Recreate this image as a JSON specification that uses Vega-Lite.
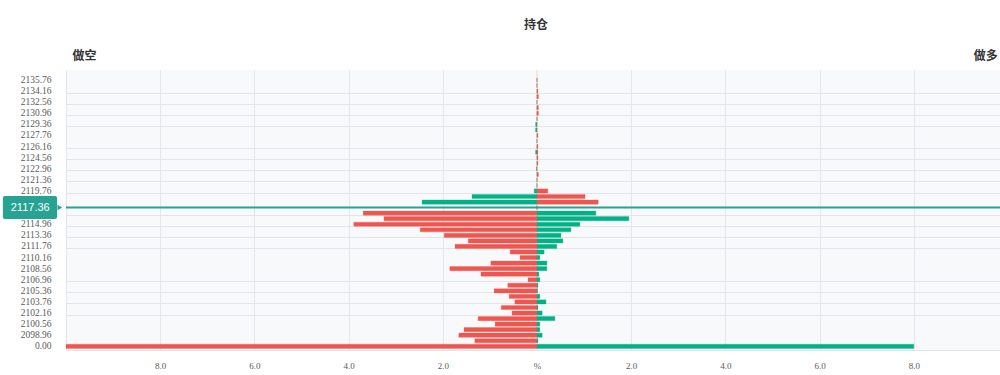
{
  "$schema": "https://vega.github.io/schema/vega-lite/v6.json",
  "width": 934,
  "height": 280,
  "autosize": "none",
  "padding": {"left": 66, "top": 70, "right": 0, "bottom": 25},
  "background": "#ffffff",
  "title": {"text": "持仓", "font": "Noto Sans CJK SC", "fontSize": 12, "fontWeight": "bold", "color": "#333333", "anchor": "middle", "frame": "group", "offset": 17, "dx": 3},
  "config": {"view": {"fill": "#f8f9fb", "stroke": null}, "font": "Liberation Sans"},
  "data": {"values": [
    {"price": "2135.76", "short": 0, "long": 0},
    {"price": "2134.96", "short": 0, "long": 0},
    {"price": "2134.16", "short": 0, "long": 0.02},
    {"price": "2133.36", "short": 0, "long": 0.03},
    {"price": "2132.56", "short": 0, "long": 0},
    {"price": "2131.76", "short": 0, "long": 0.03},
    {"price": "2130.96", "short": 0, "long": 0.03},
    {"price": "2130.16", "short": 0, "long": 0},
    {"price": "2129.36", "short": -0.03, "long": 0},
    {"price": "2128.56", "short": -0.03, "long": 0},
    {"price": "2127.76", "short": 0, "long": 0.02},
    {"price": "2126.96", "short": 0, "long": 0},
    {"price": "2126.16", "short": 0, "long": 0.02},
    {"price": "2125.36", "short": -0.03, "long": 0.02},
    {"price": "2124.56", "short": 0, "long": 0.02},
    {"price": "2123.76", "short": 0, "long": 0.02},
    {"price": "2122.96", "short": -0.01, "long": 0},
    {"price": "2122.16", "short": 0, "long": 0.03},
    {"price": "2121.36", "short": 0, "long": 0},
    {"price": "2120.56", "short": 0, "long": 0},
    {"price": "2119.76", "short": -0.06, "long": 0.23},
    {"price": "2118.96", "short": -1.38, "long": 1.02},
    {"price": "2118.16", "short": -2.44, "long": 1.30},
    {"price": "2117.36", "short": 0, "long": 0},
    {"price": "2116.56", "short": -3.69, "long": 1.25},
    {"price": "2115.76", "short": -3.25, "long": 1.95},
    {"price": "2114.96", "short": -3.89, "long": 0.91},
    {"price": "2114.16", "short": -2.48, "long": 0.72},
    {"price": "2113.36", "short": -1.97, "long": 0.51},
    {"price": "2112.56", "short": -1.46, "long": 0.55},
    {"price": "2111.76", "short": -1.74, "long": 0.42},
    {"price": "2110.96", "short": -0.57, "long": 0.15},
    {"price": "2110.16", "short": -0.36, "long": 0.06},
    {"price": "2109.36", "short": -0.98, "long": 0.21},
    {"price": "2108.56", "short": -1.85, "long": 0.21},
    {"price": "2107.76", "short": -1.19, "long": 0.04},
    {"price": "2106.96", "short": -0.19, "long": 0.06},
    {"price": "2106.16", "short": -0.62, "long": 0.02},
    {"price": "2105.36", "short": -0.91, "long": 0.01},
    {"price": "2104.56", "short": -0.59, "long": 0.06},
    {"price": "2103.76", "short": -0.47, "long": 0.19},
    {"price": "2102.96", "short": -0.76, "long": 0.02},
    {"price": "2102.16", "short": -0.53, "long": 0.11},
    {"price": "2101.36", "short": -1.25, "long": 0.38},
    {"price": "2100.56", "short": -0.89, "long": 0.06},
    {"price": "2099.76", "short": -1.55, "long": 0.06},
    {"price": "2098.96", "short": -1.66, "long": 0.11},
    {"price": "2098.16", "short": -1.32, "long": 0.02},
    {"price": "0.00", "short": -10.0, "long": 8.0}
  ]},
  "layer": [
    {
      "data": {"values": [{"zero": 0}]},
      "mark": {"type": "rule", "color": "#f8d3d2", "strokeWidth": 1},
      "encoding": {
        "x": {"field": "zero", "type": "quantitative", "axis": {"orient": "top", "values": [-9.87, 9.77], "labelExpr": "datum.value < 0 ? '做空' : '做多'", "labelFlush": 10, "labelFont": "Noto Sans CJK SC", "labelFontWeight": "bold", "labelFontSize": 12, "labelColor": "#333333", "labelPadding": 8, "ticks": false, "domain": false, "grid": false, "title": null, "labelOverlap": false}}
      }
    },
    {
      "transform": [{"fold": ["short", "long"], "as": ["side", "v"]}],
      "mark": {"type": "bar", "strokeWidth": 1, "strokeOpacity": 0.3},
      "encoding": {
        "y": {"field": "price", "type": "nominal", "sort": null, "scale": {"paddingInner": 0.25, "paddingOuter": 0.86, "align": 0.83},
          "axis": {"orient": "left", "values": ["2135.76","2134.16","2132.56","2130.96","2129.36","2127.76","2126.16","2124.56","2122.96","2121.36","2119.76","2114.96","2113.36","2111.76","2110.16","2108.56","2106.96","2105.36","2103.76","2102.16","2100.56","2098.96","0.00"], "title": null, "domain": true, "domainColor": "#e3e5e9", "ticks": false, "grid": false, "labelPadding": 15, "labelFontSize": 9.5, "labelColor": "#5a5a5a", "labelFont": "Liberation Sans Narrow", "labelOverlap": false}},
        "x": {"field": "v", "type": "quantitative", "stack": null, "scale": {"domain": [-10, 9.83], "nice": false, "zero": false},
          "axis": {"orient": "bottom", "values": [-8, -6, -4, -2, 0, 2, 4, 6, 8], "labelExpr": "datum.value === 0 ? '%' : format(abs(datum.value), '.1f')", "title": null, "domainColor": "#e3e5e9", "ticks": false, "grid": true, "gridColor": "#e4e6ea", "gridOpacity": {"condition": {"test": "datum.value === 0", "value": 0}, "value": 1}, "labelPadding": 11, "labelFontSize": 9, "labelColor": "#5a5a5a", "labelFont": "Liberation Sans Narrow"}},
        "color": {"condition": {"test": "(datum.side === 'short') === (toNumber(datum.price) > 2117.36)", "value": "#00b286"}, "value": "#f05650"},
        "stroke": {"condition": {"test": "(datum.side === 'short') === (toNumber(datum.price) > 2117.36)", "value": "#00b286"}, "value": "#f05650"}
      }
    },
    {
      "transform": [{"filter": "datum.price === '2117.36'"}],
      "mark": {"type": "rule", "color": "#26a393", "strokeWidth": 2},
      "encoding": {
        "y": {"field": "price", "type": "nominal", "sort": null, "axis": {"orient": "right", "values": ["2134.16","2132.56","2130.96","2129.36","2126.16","2124.56","2122.96","2121.36","2119.76","2116.56","2114.96","2113.36","2111.76","2106.96","2105.36","2103.76","2102.16"], "labels": false, "ticks": false, "domain": false, "grid": true, "gridColor": "#e3e5ea", "bandPosition": 1, "title": null}}
      }
    },
    {
      "transform": [{"filter": "datum.price === '2117.36'"}],
      "mark": {"type": "bar", "height": 23, "color": "#26a393", "cornerRadius": 2},
      "encoding": {
        "y": {"field": "price", "type": "nominal", "sort": null, "axis": null},
        "x": {"datum": -11.34, "axis": null},
        "x2": {"datum": -10.19}
      }
    },
    {
      "transform": [{"filter": "datum.price === '2117.36'"}],
      "mark": {"type": "point", "shape": "triangle-right", "filled": true, "size": 30, "color": "#26a393", "opacity": 1},
      "encoding": {
        "y": {"field": "price", "type": "nominal", "sort": null, "axis": null},
        "x": {"datum": -10.13, "axis": null}
      }
    },
    {
      "transform": [{"filter": "datum.price === '2117.36'"}],
      "mark": {"type": "text", "color": "#ffffff", "fontSize": 11, "font": "Liberation Sans", "align": "center", "baseline": "middle"},
      "encoding": {
        "y": {"field": "price", "type": "nominal", "sort": null, "axis": null},
        "x": {"datum": -10.76, "axis": null},
        "text": {"field": "price"}
      }
    }
  ],
  "resolve": {"axis": {"x": "independent", "y": "independent"}}
}
